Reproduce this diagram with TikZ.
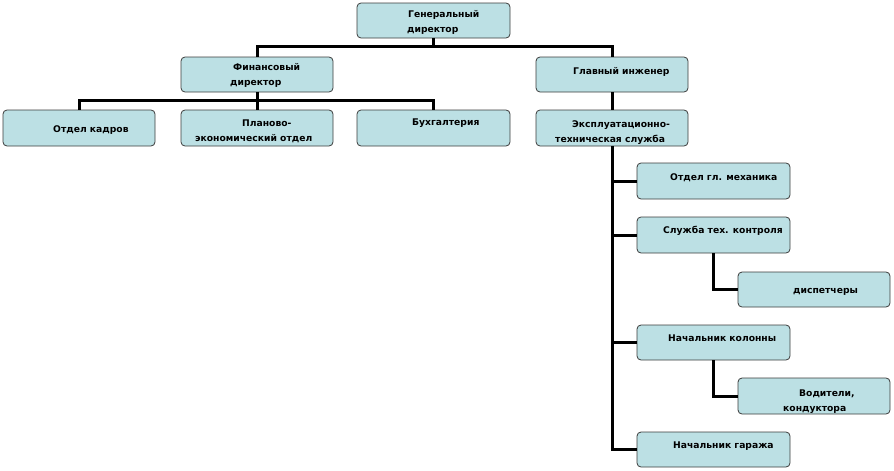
\documentclass[tikz,border=0pt]{standalone}
\usepackage{fontspec}
\setmainfont{DejaVu Sans}
\definecolor{boxfill}{RGB}{188,224,228}
\definecolor{boxline}{RGB}{60,60,60}
\begin{document}
\begin{tikzpicture}[x=1pt,y=-1pt,
  box/.style={draw=boxline,fill=boxfill,rounded corners=4pt,line width=0.8pt,inner sep=0pt},
  conn/.style={line width=3pt,black},
  txt/.style={font=\fontsize{9.2}{15}\selectfont\bfseries,inner sep=0pt,anchor=base west,align=left}]
\useasboundingbox (0,0) rectangle (894,471);
% boxes
\node[box,minimum width=153pt,minimum height=35pt] (gd) at (433.5,20.5) {};
\node[box,minimum width=152pt,minimum height=35pt] (fd) at (257,74.5) {};
\node[box,minimum width=152pt,minimum height=35pt] (gi) at (612,74.5) {};
\node[box,minimum width=152pt,minimum height=36pt] (ok) at (79,128) {};
\node[box,minimum width=152pt,minimum height=36pt] (pe) at (257,128) {};
\node[box,minimum width=153pt,minimum height=36pt] (bu) at (433.5,128) {};
\node[box,minimum width=152pt,minimum height=36pt] (eks) at (612,128) {};
\node[box,minimum width=153pt,minimum height=36pt] (ogm) at (713.5,181) {};
\node[box,minimum width=153pt,minimum height=36pt] (stk) at (713.5,235) {};
\node[box,minimum width=152pt,minimum height=35pt] (disp) at (814,289.5) {};
\node[box,minimum width=153pt,minimum height=35pt] (nk) at (713.5,342.5) {};
\node[box,minimum width=152pt,minimum height=36pt] (vod) at (814,396) {};
\node[box,minimum width=153pt,minimum height=35pt] (ng) at (713.5,449.5) {};
% texts
\node[txt] (gdt) at (407,32) {\hspace*{1pt}Генеральный\\директор};
\node[txt] (fdt) at (230,85) {\hspace*{3pt}Финансовый\\директор};
\node[txt] (git) at (573,74) {Главный инженер};
\node[txt] (okt) at (53,132) {Отдел кадров};
\node[txt] (pet) at (195,141) {\hspace*{47pt}Планово-\\экономический отдел};
\node[txt] (but) at (412,125) {Бухгалтерия};
\node[txt] (ekst) at (555,142) {\hspace*{17pt}Эксплуатационно-\\техническая служба};
\node[txt] (ogmt) at (670,180) {Отдел гл. механика};
\node[txt] (stkt) at (663,233) {Служба тех. контроля};
\node[txt] (dispt) at (793,293) {диспетчеры};
\node[txt] (nkt) at (668,341) {Начальник колонны};
\node[txt] (vodt) at (783,411) {\hspace*{16pt}Водители,\\кондуктора};
\node[txt] (ngt) at (673,448) {Начальник гаража};
% connectors
\draw[conn] (gd.south) -- ++(0,8) -| (fd.north);
\draw[conn] (gd.south) -- ++(0,8) -| (gi.north);
\draw[conn] (fd.south) -- (pe.north);
\draw[conn] (fd.south) ++(0,8) -| (ok.north);
\draw[conn] (fd.south) ++(0,8) -| (bu.north);
\draw[conn] (gi.south) -- (eks.north);
\draw[conn] (eks.south) |- (ogm.west);
\draw[conn] (eks.south) |- (stk.west);
\draw[conn] (eks.south) |- (nk.west);
\draw[conn] (eks.south) |- (ng.west);
\draw[conn] (stk.south) |- (disp.west);
\draw[conn] (nk.south) |- (vod.west);
\end{tikzpicture}
\end{document}
